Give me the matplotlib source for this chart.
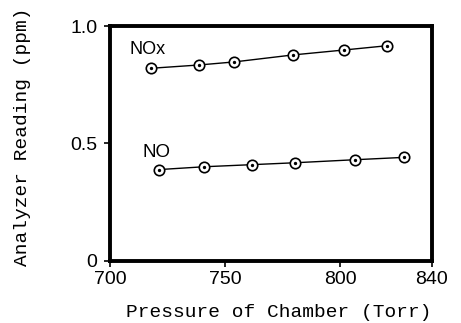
import matplotlib.pyplot as plt

# pressure (Torr) and analyzer reading (ppm) for the two channels
nox_pressure = [717.7, 738.6, 753.9, 779.7, 801.9, 820.4]
nox_reading = [0.820, 0.834, 0.847, 0.877, 0.898, 0.916]
no_pressure = [721.4, 740.9, 761.9, 780.4, 806.7, 828.0]
no_reading = [0.389, 0.401, 0.410, 0.418, 0.431, 0.441]

x_ticks = [700, 750, 800, 840]
y_ticks = [0, 0.5, 1.0]
y_tick_labels = ["0", "0.5", "1.0"]

sans = "Liberation Sans"
mono = "Liberation Mono"

fig = plt.figure(figsize=(4.61, 3.23), dpi=100)
ax = fig.add_axes([0.2386, 0.192, 0.6984, 0.7275])

for xs, ys in [(nox_pressure, nox_reading), (no_pressure, no_reading)]:
    ax.plot(xs, ys, color="black", lw=1.0, marker="o", ms=7.5,
            mfc="white", mec="black", mew=1.2, zorder=3)
    # centre dot inside each open circle
    ax.plot(xs, ys, ls="none", marker="o", ms=1.4, color="black", zorder=4)

ax.text(708.5, 0.90, "NOx", fontsize=13, family=sans, va="center", ha="left")
ax.text(714, 0.46, "NO", fontsize=13.5, family=sans, va="center", ha="left")

ax.set_xlim(700, 840)
ax.set_ylim(0, 1.0)
ax.set_xticks(x_ticks)
ax.set_yticks(y_ticks)
ax.set_yticklabels(y_tick_labels)

for lab in ax.get_xticklabels() + ax.get_yticklabels():
    lab.set_family(sans)
    lab.set_fontsize(14)

ax.tick_params(direction="out", length=4, width=1.2)
ax.tick_params(axis="y", pad=5)
ax.tick_params(axis="x", pad=3)

for s in ax.spines.values():
    s.set_linewidth(2.8)

ax.set_xlabel("Pressure of Chamber (Torr)", family=mono, fontsize=14, va="center")
ax.set_ylabel("Analyzer Reading (ppm)", family=mono, fontsize=14, va="center")
ax.xaxis.set_label_coords(0.523, -0.221)
ax.yaxis.set_label_coords(-0.273, 0.528)

fig.savefig("out.png", dpi=100)
